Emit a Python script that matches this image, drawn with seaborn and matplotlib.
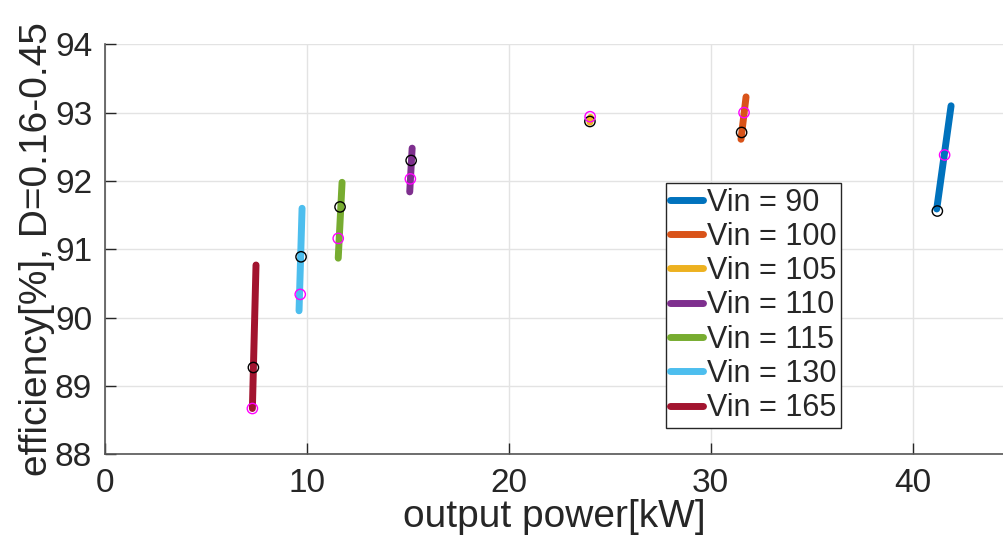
import matplotlib
matplotlib.use("Agg")
import matplotlib.pyplot as plt
import seaborn as sns
import pandas as pd

# ---- data ----
vin_labels = ["Vin = 90", "Vin = 100", "Vin = 105", "Vin = 110", "Vin = 115", "Vin = 130", "Vin = 165"]
colors = ["#0072BD", "#D95319", "#EDB120", "#7E2F8E", "#77AC30", "#4DBEEE", "#A2142F"]

# line end points (D = 0.16 .. 0.45)
line_x0 = [41.19, 31.50, 24.02, 15.10, 11.56, 9.62, 7.31]
line_y0 = [91.59, 92.61, 92.86, 91.84, 90.87, 90.10, 88.67]
line_x1 = [41.90, 31.75, 24.05, 15.22, 11.75, 9.77, 7.49]
line_y1 = [93.10, 93.23, 92.93, 92.48, 91.98, 91.60, 90.77]

# black circle markers
black_x = [41.22, 31.53, 24.02, 15.17, 11.65, 9.72, 7.36]
black_y = [91.56, 92.71, 92.87, 92.30, 91.62, 90.89, 89.27]
# magenta circle markers
mag_x = [41.58, 31.65, 24.03, 15.13, 11.56, 9.68, 7.31]
mag_y = [92.38, 93.00, 92.94, 92.03, 91.16, 90.34, 88.67]

xlabel = "output power[kW]"
ylabel = "efficiency[%], D=0.16-0.45"
xticks = [0, 10, 20, 30, 40]
yticks = [88, 89, 90, 91, 92, 93, 94]

# ---- build tables ----
rows = []
for lab, a, b, c, d in zip(vin_labels, line_x0, line_y0, line_x1, line_y1):
    rows.append({"power": a, "eff": b, "Vin": lab})
    rows.append({"power": c, "eff": d, "Vin": lab})
lines_df = pd.DataFrame(rows)
black_df = pd.DataFrame({"power": black_x, "eff": black_y})
mag_df = pd.DataFrame({"power": mag_x, "eff": mag_y})

sns.set_theme(style="white")
plt.rcParams["font.family"] = ["Liberation Sans", "DejaVu Sans"]

fig = plt.figure(figsize=(10.04, 5.42), dpi=100)
ax = fig.add_axes([0.1043, 0.1618, 1.0 - 0.1043, 0.9183 - 0.1618])

sns.lineplot(data=lines_df, x="power", y="eff", hue="Vin", hue_order=vin_labels,
             palette=colors, sort=False, estimator=None, linewidth=5, ax=ax)
sns.scatterplot(data=black_df, x="power", y="eff", marker="o", s=55,
                facecolor="none", edgecolor="black", linewidth=1.0, ax=ax, zorder=5)
sns.scatterplot(data=mag_df, x="power", y="eff", marker="o", s=55,
                facecolor="none", edgecolor="#FF00FF", linewidth=1.0, ax=ax, zorder=5)

ax.set_xlim(0, 44.52)
ax.set_ylim(88, 94)
ax.set_xticks(xticks)
ax.set_yticks(yticks)
ax.grid(True, color="#e3e3e3", linewidth=1)
ax.set_axisbelow(True)
for s in ["top", "right"]:
    ax.spines[s].set_visible(False)
for s in ["left", "bottom"]:
    ax.spines[s].set_color("#555555")
    ax.spines[s].set_linewidth(1.2)
ax.tick_params(direction="in", length=8, width=1, colors="#262626",
               labelsize=24, left=True, bottom=True)
ax.tick_params(axis="x", pad=10)
ax.tick_params(axis="y", pad=9)
ax.set_xlabel(xlabel, fontsize=28, color="#262626", labelpad=0)
ax.set_ylabel(ylabel, fontsize=28, color="#262626", labelpad=0)

leg = ax.legend(loc="upper left", bbox_to_anchor=(0.624, 0.6617), borderaxespad=0,
                fontsize=22, frameon=True, fancybox=False, handlelength=1.05,
                handletextpad=0.15, borderpad=0.15, labelspacing=0.14)
leg.get_frame().set_edgecolor("#262626")
leg.get_frame().set_linewidth(1)
leg.get_frame().set_alpha(1)
for h in leg.get_lines():
    h.set_linewidth(5)

fig.savefig("out.png", dpi=100)
